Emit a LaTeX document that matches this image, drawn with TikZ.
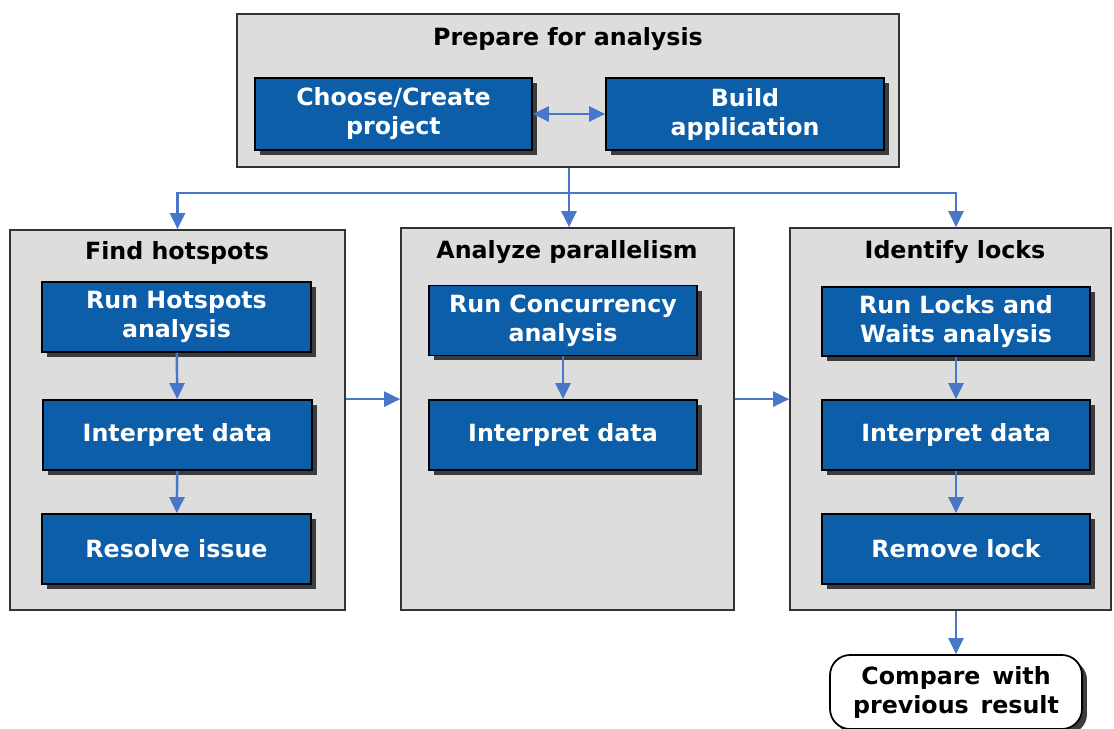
\documentclass[tikz,border=0pt]{standalone}
\usepackage{fontspec}
\setmainfont{DejaVu Sans}
\usetikzlibrary{positioning,arrows.meta,shadows}
\definecolor{groupgray}{RGB}{221,221,221}
\definecolor{stepblue}{RGB}{12,94,168}
\definecolor{arrowblue}{RGB}{72,118,200}
\definecolor{shadowgray}{RGB}{60,60,60}
\tikzset{
  flowarrow/.style={-{Triangle[length=3.2mm,width=3mm]}, line width=1.4pt, draw=arrowblue},
  flowline/.style={line width=1.4pt, draw=arrowblue},
  groupbox/.style={draw=black!80, line width=1pt, fill=groupgray},
  grouptitle/.style={font=\bfseries\fontsize{13.5}{16}\selectfont, text=black},
  stepbox/.style={draw=black, line width=1pt, fill=stepblue, text=white, align=center,
    minimum width=5.38cm, minimum height=1.4cm,
    font=\bfseries\fontsize{13.5}{16.5}\selectfont,
    drop shadow={shadow xshift=0.1cm, shadow yshift=-0.1cm, fill=shadowgray, opacity=1}},
  endbox/.style={draw=black, line width=1pt, fill=white, rounded corners=0.4cm, align=center,
    minimum width=5.04cm, minimum height=1.48cm,
    font=\bfseries\fontsize{13.5}{16.5}\selectfont,
    drop shadow={shadow xshift=0.1cm, shadow yshift=-0.1cm, fill=shadowgray, opacity=1}}
}
\begin{document}
\begin{tikzpicture}[x=0.02cm, y=-0.02cm]
  \useasboundingbox (0,0) rectangle (1114,729);
  % group boxes
  \node[groupbox, minimum width=13.24cm, minimum height=3.06cm] (prep) at (568,90.5) {};
  \node[groupbox, minimum width=6.7cm, minimum height=7.6cm] (hot) at (177.5,420) {};
  \node[groupbox, minimum width=6.66cm, minimum height=7.64cm] (par) at (567.5,419) {};
  \node[groupbox, minimum width=6.42cm, minimum height=7.64cm] (locks) at (950.5,419) {};
  \node[grouptitle] (preptitle) at (568,39) {Prepare for analysis};
  \node[grouptitle] (hottitle) at (177,253) {Find hotspots};
  \node[grouptitle] (partitle) at (567,252) {Analyze parallelism};
  \node[grouptitle] (lockstitle) at (955,252) {Identify locks};
  % steps
  \node[stepbox, minimum width=5.54cm, minimum height=1.44cm] (choose) at (393.5,114) {Choose/Create\\project};
  \node[stepbox, minimum width=5.56cm, minimum height=1.44cm] (build) at (745,114) {Build\\application};
  \node[stepbox] (hotrun) at (176.5,317) {Run Hotspots\\analysis};
  \node[stepbox] (hotint) at (177.5,435) {Interpret data};
  \node[stepbox] (hotfix) at (176.5,549) {Resolve issue};
  \node[stepbox, minimum width=5.36cm] (parrun) at (563,320.5) {Run Concurrency\\analysis};
  \node[stepbox, minimum width=5.36cm] (parint) at (563,435) {Interpret data};
  \node[stepbox, minimum width=5.36cm, minimum height=1.38cm] (lockrun) at (956,321.5) {Run Locks and\\Waits analysis};
  \node[stepbox, minimum width=5.36cm] (lockint) at (956,435) {Interpret data};
  \node[stepbox, minimum width=5.36cm] (lockfix) at (956,549) {Remove lock};
  \node[endbox] (compare) at (956,692) {Compare\enspace with\\previous\enspace result};
  % connectors
  \draw[line width=1.4pt, draw=arrowblue, {Triangle[length=3.2mm,width=3mm]}-{Triangle[length=3.2mm,width=3mm]}] (choose) -- (build);
  \coordinate (split) at (569,193);
  \draw[flowline] (prep.south -| split) -- (split);
  \draw[flowarrow] (split) -| (hot.north);
  \draw[flowarrow] (split) -- (split |- par.north);
  \draw[flowarrow] (split) -| (lockrun |- locks.north);
  \draw[flowarrow] (hotrun) -- (hotint);
  \draw[flowarrow] (hotint) -- (hotfix);
  \draw[flowarrow] (parrun) -- (parint);
  \draw[flowarrow] (lockrun) -- (lockint);
  \draw[flowarrow] (lockint) -- (lockfix);
  \draw[flowarrow] (hot.east |- hotint.north) -- (par.west |- hotint.north);
  \draw[flowarrow] (par.east |- parint.north) -- (locks.west |- parint.north);
  \draw[flowarrow] (locks.south -| compare) -- (compare.north);
\end{tikzpicture}
\end{document}
